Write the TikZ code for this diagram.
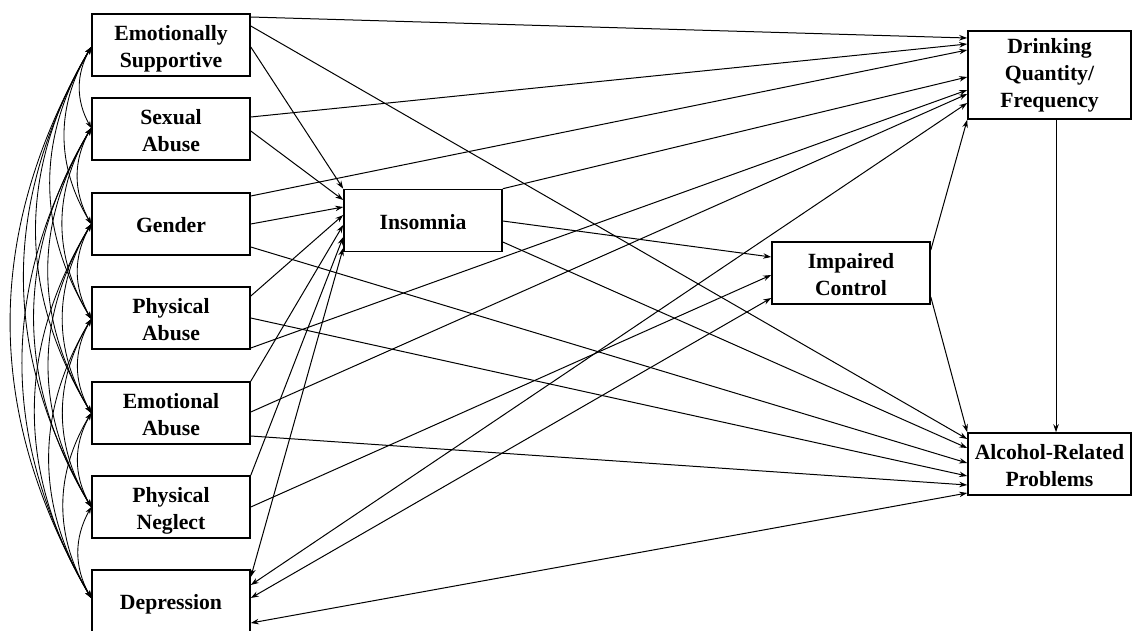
\documentclass[tikz,border=0pt]{standalone}
\usepackage{fontspec}
\setmainfont{Liberation Serif}
\usetikzlibrary{arrows.meta}
\newcommand{\tophi}{\rule{0pt}{22pt}}
\newcommand{\toplo}{\rule{0pt}{16pt}}
\newcommand{\botd}{\rule[-5pt]{0pt}{5pt}}
\begin{document}
\begin{tikzpicture}[x=1pt,y=-1pt,
  box/.style={draw, line width=1.6pt, inner sep=0pt, align=center,
    minimum width=158pt, minimum height=62pt,
    font=\fontsize{21.7}{27}\selectfont\bfseries},
  path/.style={line width=1pt, -{Stealth[length=8pt,width=5.5pt]}},
  both/.style={line width=1pt, {Stealth[length=8pt,width=5.5pt]}-{Stealth[length=8pt,width=5.5pt]}},
  corr/.style={line width=0.85pt, {Stealth[length=7pt,width=5pt]}-{Stealth[length=7pt,width=5pt]}}]
\useasboundingbox (0,0) rectangle (1132,630);
% nodes
\node[box] (ES)  at (171,45)  {\tophi Emotionally\\Supportive\botd};
\node[box] (SA)  at (171,129) {\tophi Sexual\\Abuse\botd};
\node[box] (G)   at (171,224) {\tophi Gender\botd};
\node[box] (PA)  at (171,318) {\tophi Physical\\Abuse\botd};
\node[box] (EA)  at (171,413) {\tophi Emotional\\Abuse\botd};
\node[box] (PN)  at (171,507) {\tophi Physical\\Neglect\botd};
\node[box] (Dep) at (171,601) {\tophi Depression\botd};
\node[box] (Ins) at (423,220.5) {\tophi Insomnia\botd};
\node[box] (IC)  at (851,273) {\tophi Impaired\\Control\botd};
\node[box, minimum width=163pt, minimum height=88pt] (DQF) at (1049.5,75) {\toplo Drinking\\Quantity/\\Frequency\botd};
\node[box, minimum width=163pt] (ARP) at (1049.5,464) {\tophi Alcohol-Related\\Problems\botd};
% left correlation anchors
\coordinate (cES)  at (ES.west  |- 0,47);
\coordinate (cSA)  at (SA.west  |- 0,128);
\coordinate (cG)   at (G.west   |- 0,224);
\coordinate (cPA)  at (PA.west  |- 0,319);
\coordinate (cEA)  at (EA.west  |- 0,413);
\coordinate (cPN)  at (PN.west  |- 0,507);
\coordinate (cDep) at (Dep.west |- 0,598);
% correlations
\draw[corr] (cES) to[bend right=29] (cSA);
\draw[corr] (cES) to[bend right=31] (cG);
\draw[corr] (cES) to[bend right=31] (cPA);
\draw[corr] (cES) to[bend right=31] (cEA);
\draw[corr] (cES) to[bend right=30] (cPN);
\draw[corr] (cES) to[bend right=30] (cDep);
\draw[corr] (cSA) to[bend right=29] (cG);
\draw[corr] (cSA) to[bend right=31] (cPA);
\draw[corr] (cSA) to[bend right=31] (cEA);
\draw[corr] (cSA) to[bend right=31] (cPN);
\draw[corr] (cSA) to[bend right=30] (cDep);
\draw[corr] (cG) to[bend right=29] (cPA);
\draw[corr] (cG) to[bend right=31] (cEA);
\draw[corr] (cG) to[bend right=31] (cPN);
\draw[corr] (cG) to[bend right=31] (cDep);
\draw[corr] (cPA) to[bend right=29] (cEA);
\draw[corr] (cPA) to[bend right=31] (cPN);
\draw[corr] (cPA) to[bend right=31] (cDep);
\draw[corr] (cEA) to[bend right=29] (cPN);
\draw[corr] (cEA) to[bend right=31] (cDep);
\draw[corr] (cPN) to[bend right=29] (cDep);
% Emotionally Supportive
\draw[path] (ES.east |- 0,17) -- (DQF.west |- 0,38);
\draw[path] (ES.east |- 0,26) -- (ARP.west |- 0,439);
\draw[path] (ES.east |- 0,47) -- (Ins.north west);
% Sexual Abuse
\draw[path] (SA.east |- 0,117) -- (DQF.west |- 0,44);
\draw[path] (SA.east |- 0,131) -- (Ins.west |- 0,200);
% Gender
\draw[path] (G.east |- 0,196) -- (DQF.west |- 0,50);
\draw[path] (G.east |- 0,224) -- (Ins.west |- 0,207);
\draw[path] (G.east |- 0,247) -- (ARP.west |- 0,463);
% Physical Abuse
\draw[path] (PA.east |- 0,296) -- (Ins.west |- 0,215);
\draw[path] (PA.east |- 0,318) -- (ARP.west |- 0,476);
\draw[path] (PA.east |- 0,348) -- (DQF.west |- 0,90);
% Emotional Abuse
\draw[path] (EA.north east) -- (Ins.west |- 0,225);
\draw[path] (EA.east |- 0,412) -- (DQF.west |- 0,94);
\draw[path] (EA.east |- 0,436) -- (ARP.west |- 0,485);
% Physical Neglect
\draw[path] (PN.north east) -- (Ins.west |- 0,237);
\draw[path] (PN.east |- 0,507) -- (IC.west |- 0,275);
% Depression
\draw[both] (Dep.east |- 0,577) -- (Ins.west |- 0,248);
\draw[both] (Dep.east |- 0,585) -- (DQF.west |- 0,103);
\draw[both] (Dep.east |- 0,598) -- (IC.west |- 0,298);
\draw[both] (Dep.east |- 0,623) -- (ARP.west |- 0,493);
% Insomnia
\draw[path] (Ins.north east) -- (DQF.west |- 0,77);
\draw[path] (Ins.east |- 0,221) -- (IC.west |- 0,257);
\draw[path] (Ins.east |- 0,242) -- (ARP.west |- 0,448);
% Impaired Control
\draw[path] (IC.east |- 0,250) -- (DQF.south west);
\draw[path] (IC.east |- 0,297) -- (ARP.north west);
% Drinking -> Alcohol
\draw[path] (DQF.south -| 1056,0) -- (ARP.north -| 1056,0);
\end{tikzpicture}
\end{document}
